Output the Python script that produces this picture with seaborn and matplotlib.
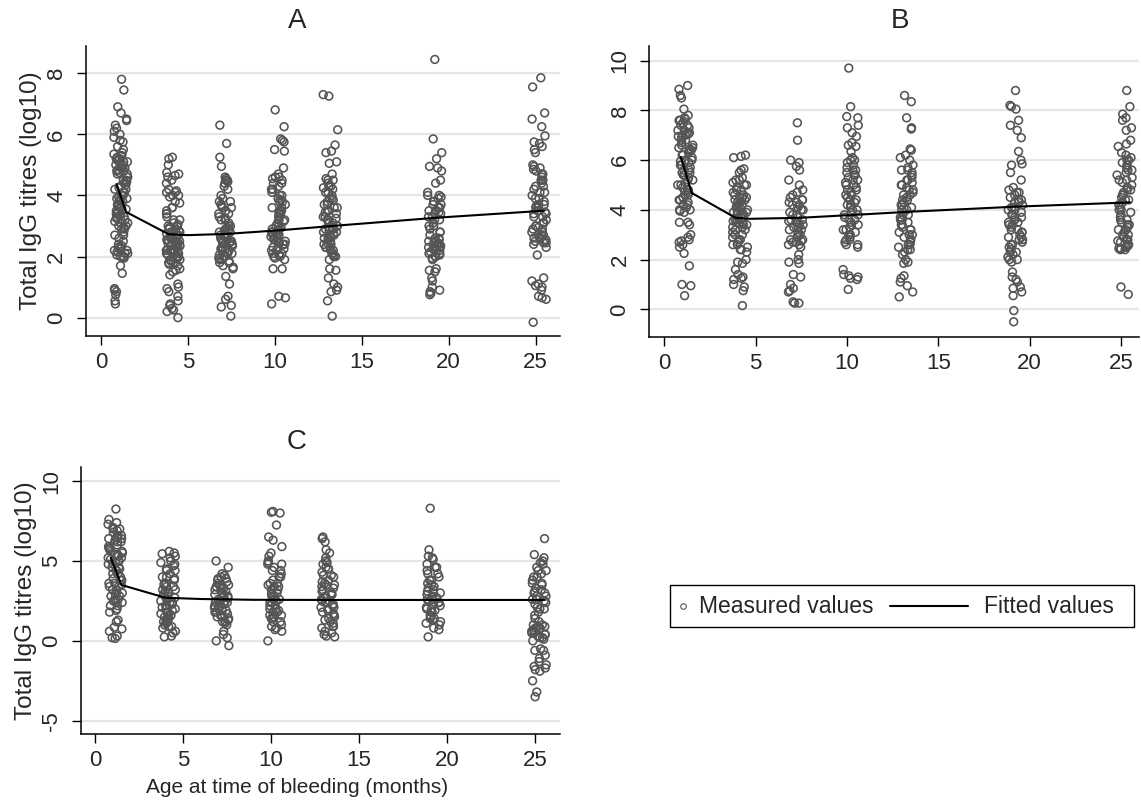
import numpy as np
import pandas as pd
import seaborn as sns
import matplotlib.pyplot as plt
from matplotlib.lines import Line2D
from matplotlib.patches import Rectangle

# visit ages (months) and measured titres per visit
ages = [1.15, 4.15, 7.2, 10.2, 13.2, 19.2, 25.2]

a_vals = [
    [7.8, 7.45, 6.9, 6.7, 6.5, 6.45, 6.3, 6.2, 6.1, 6.0, 5.9, 5.8, 5.75, 5.6, 5.5, 5.4, 5.35, 5.3, 5.25,
     5.2, 5.15, 5.1, 5.05, 5.0, 4.95, 4.9, 4.85, 4.8, 4.75, 4.7, 4.6, 4.5, 4.45, 4.35, 4.25, 4.2, 4.1, 4.0,
     3.95, 3.9, 3.85, 3.8, 3.7, 3.65, 3.6, 3.55, 3.5, 3.45, 3.4, 3.35, 3.3, 3.25, 3.2, 3.15, 3.1, 3.0, 2.95,
     2.9, 2.8, 2.7, 2.6, 2.5, 2.4, 2.35, 2.3, 2.25, 2.2, 2.15, 2.1, 2.05, 2.0, 2.0, 1.95, 1.7, 1.45, 0.95,
     0.9, 0.85, 0.75, 0.55, 0.45],
    [5.25, 5.2, 5.0, 4.75, 4.7, 4.65, 4.6, 4.5, 4.4, 4.2, 4.15, 4.1, 4.0, 3.95, 3.8, 3.75, 3.6, 3.5, 3.4,
     3.3, 3.2, 3.1, 3.05, 3.0, 2.95, 2.9, 2.85, 2.8, 2.75, 2.7, 2.65, 2.6, 2.55, 2.5, 2.45, 2.4, 2.35, 2.3,
     2.25, 2.2, 2.15, 2.1, 2.05, 2.0, 1.95, 1.9, 1.85, 1.8, 1.75, 1.7, 1.6, 1.55, 1.5, 1.4, 1.1, 1.0, 0.95,
     0.85, 0.7, 0.55, 0.45, 0.4, 0.3, 0.25, 0.2, 0.0],
    [6.3, 5.7, 5.25, 4.95, 4.6, 4.55, 4.5, 4.45, 4.3, 4.2, 4.0, 3.9, 3.8, 3.7, 3.65, 3.6, 3.5, 3.4, 3.3,
     3.25, 3.2, 3.1, 3.0, 2.95, 2.9, 2.85, 2.8, 2.75, 2.7, 2.65, 2.6, 2.55, 2.5, 2.45, 2.4, 2.35, 2.3, 2.25,
     2.2, 2.15, 2.1, 2.05, 2.0, 1.95, 1.9, 1.85, 1.8, 1.7, 1.65, 1.6, 1.35, 1.1, 0.7, 0.6, 0.4, 0.35, 0.05],
    [6.8, 6.25, 5.85, 5.8, 5.75, 5.5, 5.45, 4.9, 4.7, 4.6, 4.55, 4.5, 4.4, 4.3, 4.2, 4.1, 4.0, 3.9, 3.85,
     3.8, 3.7, 3.6, 3.5, 3.45, 3.4, 3.3, 3.2, 3.15, 3.1, 3.0, 2.95, 2.9, 2.85, 2.8, 2.7, 2.65, 2.6, 2.55,
     2.5, 2.45, 2.4, 2.3, 2.25, 2.2, 2.1, 2.05, 2.0, 1.95, 1.9, 1.6, 1.6, 0.7, 0.65, 0.45],
    [7.3, 7.25, 6.15, 5.65, 5.45, 5.4, 5.1, 5.05, 4.7, 4.55, 4.5, 4.4, 4.3, 4.25, 4.2, 4.1, 4.0, 3.9, 3.85,
     3.8, 3.7, 3.6, 3.5, 3.45, 3.4, 3.3, 3.25, 3.2, 3.1, 3.0, 2.95, 2.9, 2.85, 2.8, 2.75, 2.7, 2.6, 2.55,
     2.5, 2.45, 2.4, 2.3, 2.25, 2.2, 2.1, 2.05, 2.0, 1.9, 1.6, 1.55, 1.3, 1.1, 1.0, 0.9, 0.85, 0.55, 0.05],
    [8.45, 5.85, 5.4, 5.2, 4.95, 4.9, 4.8, 4.5, 4.4, 4.1, 4.0, 3.95, 3.9, 3.8, 3.7, 3.6, 3.5, 3.45, 3.4,
     3.3, 3.2, 3.1, 3.0, 2.9, 2.8, 2.7, 2.6, 2.55, 2.5, 2.45, 2.4, 2.35, 2.3, 2.25, 2.2, 2.15, 2.1, 2.05,
     2.0, 1.95, 1.9, 1.6, 1.55, 1.5, 1.3, 1.2, 1.0, 0.9, 0.85, 0.8, 0.75],
    [7.85, 7.55, 6.7, 6.5, 6.25, 5.95, 5.75, 5.7, 5.6, 5.5, 5.4, 5.0, 4.95, 4.85, 4.8, 4.7, 4.6, 4.5, 4.4,
     4.3, 4.2, 4.1, 4.0, 3.9, 3.8, 3.7, 3.65, 3.6, 3.5, 3.45, 3.4, 3.3, 3.2, 3.1, 3.0, 2.95, 2.9, 2.8, 2.7,
     2.65, 2.6, 2.55, 2.5, 2.45, 2.4, 2.3, 2.05, 1.3, 1.2, 1.1, 1.05, 1.0, 0.9, 0.7, 0.65, 0.6, -0.15],
]
# extra readings in the crowded middle of each cluster
a_core = [
    [5.3, 5.2, 5.1, 5.0, 4.9, 4.8, 4.7, 4.6, 4.5, 4.4, 4.3, 4.2, 4.1, 4.0, 3.9, 3.8, 3.7, 3.6, 3.5, 3.4,
     3.3, 3.2, 3.1, 3.0, 2.9, 2.7, 2.3, 2.2, 2.1, 2.0],
    [3.2, 3.0, 2.9, 2.8, 2.7, 2.6, 2.5, 2.4, 2.3, 2.2, 2.1, 2.0, 1.9, 1.8, 2.45, 2.35, 2.25, 2.15, 2.55,
     2.65, 4.1, 4.0, 3.6, 3.4],
    [3.8, 3.6, 3.4, 3.2, 3.0, 2.9, 2.8, 2.7, 2.6, 2.5, 2.4, 2.3, 2.2, 2.1, 2.0, 1.9, 1.8, 2.65, 2.45, 2.25,
     4.5, 4.4],
    [4.6, 4.4, 4.2, 4.0, 3.8, 3.6, 3.4, 3.2, 3.0, 2.9, 2.8, 2.7, 2.6, 2.5, 2.4, 2.3, 2.2, 2.1, 2.0, 3.5,
     3.3, 2.85, 2.75],
    [4.5, 4.3, 4.1, 3.9, 3.7, 3.5, 3.3, 3.1, 3.0, 2.9, 2.8, 2.7, 2.6, 2.5, 2.4, 2.3, 2.2, 2.1, 2.0, 3.6,
     3.2, 2.95, 2.65],
    [4.0, 3.8, 3.6, 3.4, 3.2, 3.0, 2.8, 2.6, 2.5, 2.4, 2.3, 2.2, 2.1, 2.0, 3.7, 3.5, 3.3, 2.45, 2.35],
    [4.9, 4.7, 4.5, 4.3, 4.1, 3.9, 3.7, 3.5, 3.3, 3.1, 2.9, 2.7, 2.6, 2.5, 2.45, 3.6, 3.4, 3.0, 2.8],
]

b_vals = [
    [9.0, 8.85, 8.6, 8.5, 8.05, 7.8, 7.7, 7.65, 7.6, 7.5, 7.4, 7.3, 7.2, 7.1, 7.05, 7.0, 6.95, 6.9, 6.8,
     6.7, 6.6, 6.5, 6.45, 6.4, 6.3, 6.2, 6.1, 6.0, 5.95, 5.9, 5.8, 5.7, 5.6, 5.5, 5.4, 5.3, 5.2, 5.1, 5.0,
     4.9, 4.8, 4.75, 4.7, 4.6, 4.5, 4.4, 4.3, 4.2, 4.1, 4.0, 3.95, 3.9, 3.5, 3.5, 3.4, 3.0, 2.9, 2.8, 2.75,
     2.7, 2.6, 2.5, 2.25, 1.75, 1.0, 0.95, 0.55],
    [6.2, 6.15, 6.1, 5.65, 5.6, 5.5, 5.3, 5.2, 5.1, 5.0, 4.9, 4.8, 4.7, 4.6, 4.5, 4.45, 4.4, 4.3, 4.2, 4.15,
     4.1, 4.0, 3.95, 3.9, 3.85, 3.8, 3.7, 3.6, 3.55, 3.5, 3.45, 3.4, 3.3, 3.2, 3.1, 3.0, 2.9, 2.8, 2.7,
     2.6, 2.5, 2.4, 2.3, 2.0, 1.9, 1.85, 1.6, 1.4, 1.3, 1.25, 1.2, 1.0, 0.9, 0.75, 0.15],
    [7.5, 6.8, 6.0, 5.9, 5.75, 5.6, 5.2, 5.0, 4.8, 4.7, 4.5, 4.4, 4.3, 4.2, 4.1, 4.0, 3.9, 3.8, 3.7, 3.6,
     3.55, 3.5, 3.4, 3.3, 3.2, 3.1, 3.0, 2.9, 2.8, 2.75, 2.7, 2.6, 2.5, 2.2, 2.0, 1.9, 1.85, 1.4, 1.3, 1.0,
     0.85, 0.75, 0.7, 0.3, 0.25, 0.25],
    [9.7, 8.15, 7.75, 7.7, 7.4, 7.3, 7.1, 6.95, 6.7, 6.6, 6.55, 6.35, 6.1, 6.0, 5.9, 5.8, 5.7, 5.6, 5.5,
     5.4, 5.3, 5.2, 5.1, 5.0, 4.9, 4.8, 4.7, 4.6, 4.5, 4.4, 4.3, 4.2, 4.1, 4.0, 3.9, 3.8, 3.7, 3.6, 3.5,
     3.4, 3.3, 3.2, 3.1, 3.0, 2.9, 2.8, 2.7, 2.6, 2.5, 1.6, 1.4, 1.35, 1.3, 1.25, 1.2, 0.8],
    [8.6, 8.35, 7.7, 7.3, 7.25, 6.45, 6.4, 6.2, 6.1, 6.0, 5.8, 5.7, 5.6, 5.5, 5.4, 5.3, 5.2, 5.1, 5.0, 4.9,
     4.8, 4.7, 4.6, 4.5, 4.4, 4.3, 4.2, 4.1, 4.0, 3.9, 3.8, 3.7, 3.6, 3.5, 3.4, 3.3, 3.2, 3.1, 3.0, 2.9,
     2.8, 2.7, 2.6, 2.5, 2.4, 2.3, 2.2, 2.0, 1.9, 1.85, 1.35, 1.25, 1.1, 0.95, 0.7, 0.5],
    [8.8, 8.2, 8.15, 8.05, 7.6, 7.4, 7.2, 6.9, 6.35, 6.0, 5.85, 5.8, 5.5, 5.2, 4.9, 4.8, 4.7, 4.6, 4.5, 4.4,
     4.3, 4.2, 4.1, 4.0, 3.9, 3.8, 3.7, 3.6, 3.5, 3.4, 3.3, 3.2, 3.1, 3.0, 2.9, 2.8, 2.7, 2.6, 2.5, 2.4,
     2.3, 2.2, 2.1, 2.0, 1.9, 1.5, 1.3, 1.2, 1.1, 0.9, 0.85, 0.7, 0.55, -0.05, -0.5],
    [8.8, 8.15, 7.85, 7.7, 7.6, 7.3, 7.2, 6.8, 6.65, 6.55, 6.3, 6.2, 6.1, 6.0, 5.9, 5.8, 5.7, 5.6, 5.5, 5.4,
     5.3, 5.2, 5.1, 5.0, 4.9, 4.8, 4.7, 4.6, 4.5, 4.4, 4.3, 4.2, 4.1, 4.0, 3.9, 3.8, 3.7, 3.6, 3.5, 3.4,
     3.3, 3.2, 3.1, 3.0, 2.9, 2.8, 2.75, 2.7, 2.6, 2.55, 2.5, 2.45, 2.4, 2.4, 0.9, 0.6],
]
b_core = [
    [7.6, 7.4, 7.2, 7.0, 6.8, 6.6, 6.4, 6.2, 6.0, 5.8, 5.6, 5.4, 5.2, 5.0, 4.8, 4.6, 4.4, 4.2, 4.0, 7.1,
     6.5, 5.5, 4.5],
    [5.2, 5.0, 4.8, 4.6, 4.4, 4.2, 4.0, 3.8, 3.6, 3.4, 3.2, 3.0, 2.8, 2.6, 2.4, 4.3, 3.9, 3.7, 3.5, 3.3,
     4.1, 4.5],
    [4.6, 4.4, 4.2, 4.0, 3.8, 3.6, 3.4, 3.2, 3.0, 2.8, 2.6, 3.5, 3.3, 2.7, 4.3],
    [6.0, 5.6, 5.2, 4.8, 4.4, 4.0, 3.6, 3.2, 2.8, 5.4, 5.0, 4.6, 4.2, 3.8, 3.4, 3.0, 2.6],
    [5.6, 5.2, 4.8, 4.4, 4.0, 3.6, 3.2, 2.8, 2.4, 5.0, 4.6, 4.2, 3.8, 3.4, 3.0, 2.6],
    [4.7, 4.4, 4.1, 3.8, 3.5, 3.2, 2.9, 2.6, 2.3, 2.0, 4.3, 4.0, 3.7, 3.4, 3.1, 2.8],
    [6.0, 5.6, 5.2, 4.8, 4.4, 4.0, 3.6, 3.2, 2.8, 2.6, 2.5, 2.45, 3.4, 3.0, 4.6],
]

c_vals = [
    [8.25, 7.6, 7.4, 7.3, 7.1, 7.0, 6.9, 6.8, 6.6, 6.5, 6.4, 6.3, 6.2, 6.0, 5.9, 5.8, 5.7, 5.6, 5.5, 5.4,
     5.3, 5.2, 5.1, 5.0, 4.9, 4.8, 4.6, 4.5, 4.4, 4.2, 4.0, 3.9, 3.8, 3.6, 3.5, 3.4, 3.2, 3.0, 2.9, 2.8,
     2.6, 2.5, 2.4, 2.2, 2.0, 1.9, 1.8, 1.3, 1.2, 0.85, 0.75, 0.6, 0.3, 0.2, 0.15],
    [5.6, 5.5, 5.45, 5.3, 5.2, 5.0, 4.9, 4.7, 4.5, 4.4, 4.2, 4.0, 3.9, 3.8, 3.6, 3.5, 3.4, 3.2, 3.1, 3.0,
     2.9, 2.8, 2.7, 2.6, 2.5, 2.4, 2.3, 2.2, 2.1, 2.0, 1.9, 1.8, 1.7, 1.6, 1.5, 1.4, 1.3, 1.2, 1.1, 1.0,
     0.9, 0.8, 0.6, 0.5, 0.3, 0.25],
    [5.0, 4.6, 4.2, 4.1, 4.0, 3.9, 3.8, 3.7, 3.5, 3.4, 3.3, 3.2, 3.1, 3.0, 2.9, 2.8, 2.7, 2.6, 2.5, 2.4,
     2.3, 2.2, 2.1, 2.0, 1.9, 1.8, 1.7, 1.6, 1.5, 1.4, 1.3, 1.2, 1.1, 1.0, 0.6, 0.4, 0.2, 0.0, -0.3],
    [8.1, 8.05, 8.0, 7.25, 6.5, 6.3, 5.9, 5.5, 5.3, 5.0, 4.9, 4.8, 4.6, 4.4, 4.2, 4.0, 3.8, 3.6, 3.5, 3.4,
     3.2, 3.0, 2.9, 2.8, 2.6, 2.5, 2.4, 2.2, 2.0, 1.9, 1.8, 1.6, 1.5, 1.4, 1.2, 1.0, 0.9, 0.8, 0.7, 0.6, 0.0],
    [6.5, 6.4, 6.2, 5.7, 5.5, 5.2, 5.0, 4.8, 4.6, 4.5, 4.3, 4.1, 4.0, 3.8, 3.6, 3.5, 3.4, 3.2, 3.0, 2.9,
     2.8, 2.6, 2.5, 2.4, 2.2, 2.1, 2.0, 1.8, 1.6, 1.5, 1.4, 1.2, 1.1, 0.9, 0.8, 0.6, 0.5, 0.4, 0.3, 0.25],
    [8.3, 5.7, 5.3, 5.2, 5.1, 4.8, 4.6, 4.4, 4.2, 4.0, 3.8, 3.6, 3.5, 3.3, 3.1, 3.0, 2.9, 2.7, 2.6, 2.5,
     2.4, 2.3, 2.1, 2.0, 1.9, 1.8, 1.6, 1.5, 1.4, 1.3, 1.2, 1.0, 0.8, 0.7, 0.25],
    [6.4, 5.4, 5.2, 5.0, 4.9, 4.6, 4.4, 4.2, 4.0, 3.8, 3.6, 3.5, 3.3, 3.1, 3.0, 2.8, 2.6, 2.5, 2.3, 2.1,
     2.0, 1.8, 1.6, 1.4, 1.2, 1.0, 0.9, 0.8, 0.7, 0.6, 0.5, 0.4, 0.3, 0.2, 0.1, 0.0, -0.5, -0.6, -0.6,
     -0.9, -1.1, -1.3, -1.5, -1.6, -1.7, -1.8, -1.9, -2.5, -3.2, -3.5],
]
c_core = [
    [7.0, 6.6, 6.2, 5.8, 5.4, 5.0, 4.6, 4.2, 3.8, 3.4, 3.0, 2.6, 2.2, 6.4, 5.6, 5.2, 4.8, 4.4, 3.6, 3.2,
     2.8, 2.4],
    [4.8, 4.4, 4.0, 3.6, 3.2, 2.8, 2.4, 2.0, 1.6, 1.2, 0.9, 3.4, 3.0, 2.6, 2.2, 1.8, 1.4],
    [3.9, 3.6, 3.3, 3.0, 2.7, 2.4, 2.1, 1.8, 1.5, 1.2, 3.5, 2.8, 2.5, 2.2, 1.9, 1.6],
    [4.8, 4.4, 4.0, 3.6, 3.2, 2.8, 2.4, 2.0, 1.6, 1.2, 3.4, 3.0, 2.6, 2.2, 1.8, 1.4],
    [4.9, 4.5, 4.1, 3.7, 3.3, 2.9, 2.5, 2.1, 1.7, 1.3, 0.9, 3.1, 2.7, 2.3, 1.9, 3.5],
    [4.6, 4.2, 3.8, 3.4, 3.0, 2.6, 2.2, 1.8, 1.4, 1.1, 3.2, 2.8, 2.4, 2.0],
    [4.8, 4.4, 4.0, 3.6, 3.2, 2.8, 2.4, 2.0, 1.0, 0.8, 0.6, 0.4, 0.2, 0.9, 0.5, 3.0, 2.6],
]

# fitted curves
fit_a_x = [0.9, 1.45, 3.9, 5.0, 7.2, 10.3, 13.3, 19.3, 25.5]
fit_a_y = [4.37, 3.46, 2.73, 2.7, 2.74, 2.86, 3.0, 3.27, 3.5]
fit_b_x = [0.9, 1.5, 3.9, 4.7, 7.4, 10.7, 13.3, 19.3, 25.5]
fit_b_y = [6.13, 4.68, 3.68, 3.64, 3.68, 3.81, 3.92, 4.13, 4.3]
fit_c_x = [0.9, 1.5, 4.0, 6.0, 9.0, 13.3, 19.3, 25.5]
fit_c_y = [5.2, 3.5, 2.7, 2.62, 2.57, 2.56, 2.56, 2.56]

grey = '#555555'
sns.set_style('white')
plt.rcParams['font.family'] = ['Liberation Sans', 'DejaVu Sans']
plt.rcParams['axes.unicode_minus'] = False
np.random.seed(3)


def long_df(groups, core):
    rows = [(a, v) for a, vals, extra in zip(ages, groups, core) for v in vals + extra]
    return pd.DataFrame(rows, columns=['age', 'titre'])


def panel(ax, groups, core, fx, fy, title, title_x, ylim, yticks):
    df = long_df(groups, core)
    sns.stripplot(data=df, x='age', y='titre', native_scale=True, orient='x',
                  jitter=0.14, size=5.6, color=grey, facecolor='none',
                  edgecolor=grey, linewidth=1.15, ax=ax)
    sns.lineplot(x=fx, y=fy, ax=ax, color='black', linewidth=1.5,
                 sort=False, estimator=None, zorder=4)
    ax.set_xlim(-0.85, 26.4)
    ax.set_ylim(*ylim)
    ax.set_xticks([0, 5, 10, 15, 20, 25])
    ax.set_yticks(yticks)
    ax.grid(axis='y', color='#e6e6e6', linewidth=1.6)
    ax.grid(axis='x', visible=False)
    ax.set_axisbelow(True)
    for s in ['top', 'right']:
        ax.spines[s].set_visible(False)
    for s in ['left', 'bottom']:
        ax.spines[s].set_color('black')
        ax.spines[s].set_linewidth(1.1)
    ax.tick_params(direction='out', length=6.5, width=1, color='black',
                   labelsize=16, pad=5, left=True, bottom=True)
    ax.tick_params(axis='y', labelrotation=90, pad=7)
    for t in ax.get_yticklabels():
        t.set_va('center')
    ax.set_title(title, fontsize=20, pad=13, x=title_x)
    ax.set_xlabel('')
    ax.set_ylabel('')


fig = plt.figure(figsize=(11.41, 8.09), dpi=100)
ax_a = fig.add_axes([0.0754, 0.5847, 0.4154, 0.3588])
ax_b = fig.add_axes([0.5691, 0.5838, 0.4290, 0.3597])
ax_c = fig.add_axes([0.0707, 0.0923, 0.4201, 0.3308])

panel(ax_a, a_vals, a_core, fit_a_x, fit_a_y, 'A', 0.445, (-0.6, 8.9), [0, 2, 4, 6, 8])
panel(ax_b, b_vals, b_core, fit_b_x, fit_b_y, 'B', 0.512, (-1.1, 10.6), [0, 2, 4, 6, 8, 10])
panel(ax_c, c_vals, c_core, fit_c_x, fit_c_y, 'C', 0.451, (-5.85, 10.9), [-5, 0, 5, 10])
ax_b.set_xlim(-0.82, 25.98)
ax_c.set_xlim(-0.81, 26.4)

ax_a.set_ylabel('Total IgG titres (log10)', fontsize=17.5, labelpad=3)
ax_c.set_ylabel('Total IgG titres (log10)', fontsize=17.5, labelpad=3)
ax_c.set_xlabel('Age at time of bleeding (months)', fontsize=15, labelpad=5, x=0.451)

# legend box drawn in figure coordinates
fig.add_artist(Rectangle((0.5872, 0.2250), 0.4067, 0.0519, transform=fig.transFigure,
                         facecolor='white', edgecolor='black', linewidth=1.0))
fig.add_artist(Line2D([0.5986], [0.2509], transform=fig.transFigure, marker='o',
                      markersize=4, markerfacecolor='none', markeredgecolor=grey,
                      markeredgewidth=0.8, linestyle='none'))
fig.text(0.6126, 0.2509, 'Measured values', fontsize=16.5, va='center', ha='left')
fig.add_artist(Line2D([0.780, 0.8484], [0.2509, 0.2509], transform=fig.transFigure,
                      color='black', linewidth=1.5))
fig.text(0.8624, 0.2509, 'Fitted values', fontsize=16.5, va='center', ha='left')

fig.savefig('out.png', dpi=100)
